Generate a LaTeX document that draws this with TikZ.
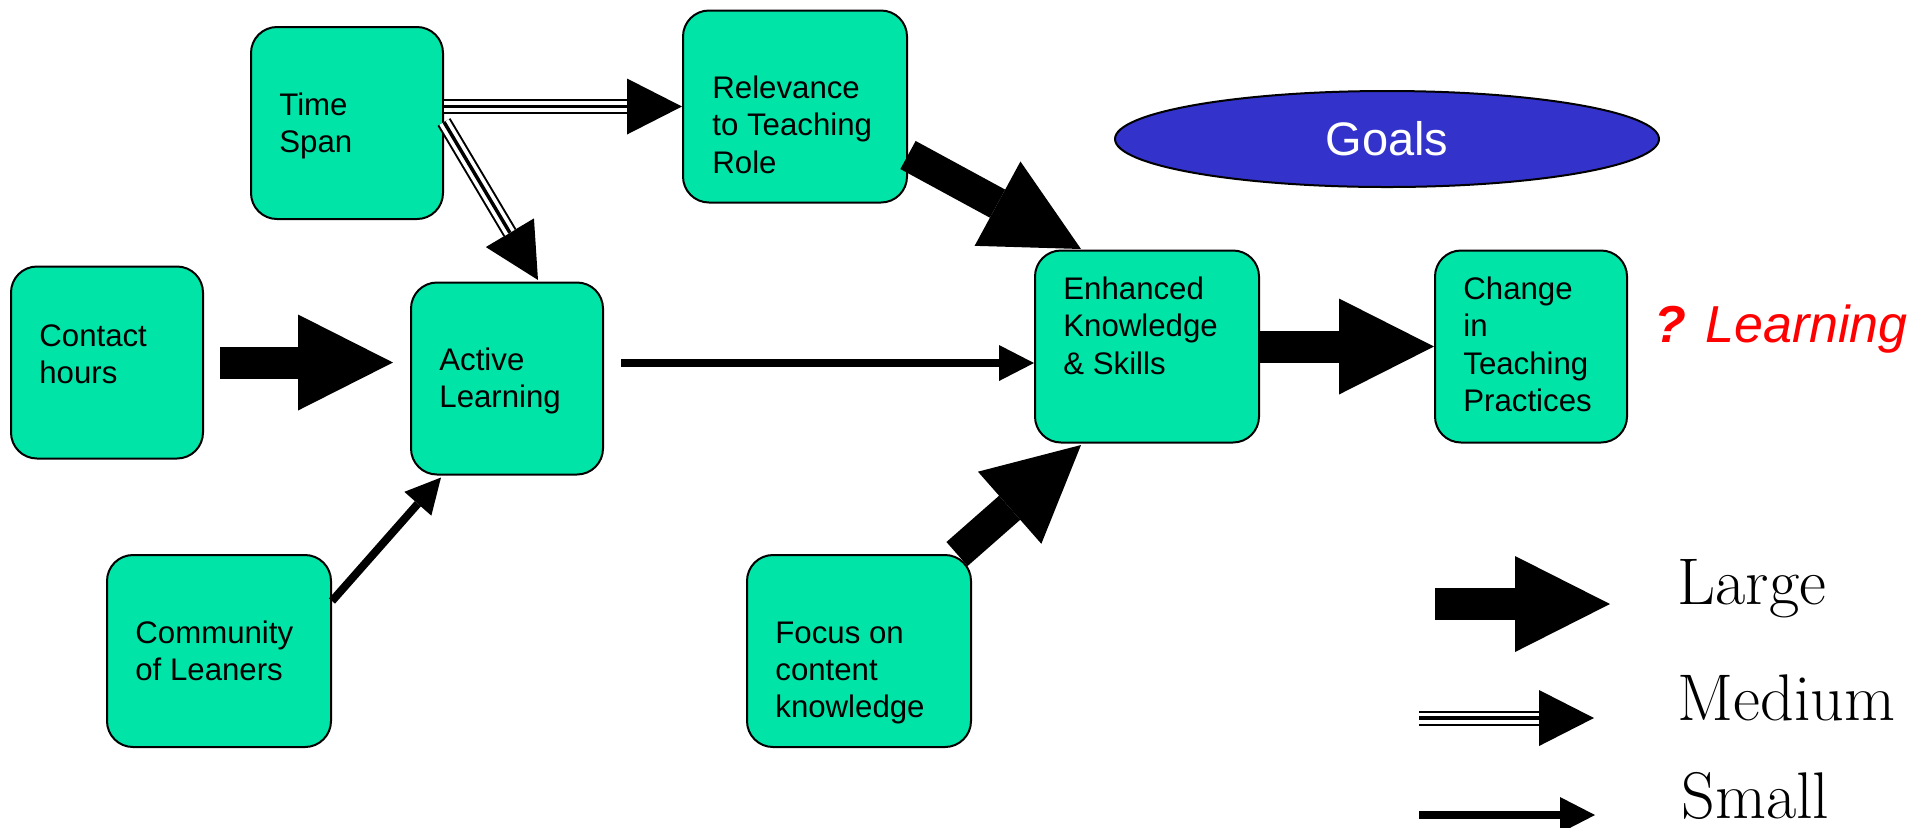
\documentclass[tikz,border=0pt]{standalone}
\usepackage{fontspec}
\usepackage{tikz}
\usetikzlibrary{arrows.meta,calc,shapes.geometric}
\newfontfamily\boxfont{Liberation Sans}
\definecolor{BoxColor}{RGB}{0,228,168}
\definecolor{GoalColor}{RGB}{51,51,204}

\begin{document}
\begin{tikzpicture}[x=0.5pt,y=-0.5pt,
  box/.style={draw, line width=1pt, rounded corners=13pt, fill=BoxColor, minimum width=96pt, minimum height=96pt, inner sep=0pt},
  widebox/.style={box, minimum width=112pt},
  boxtext/.style={anchor=base west, align=left, inner sep=0pt, font=\boxfont\fontsize{15.6}{18.7}\selectfont},
  bigarrow/.style={line width=16pt, -{Triangle[length=47.5pt,width=48pt,line width=0pt]}},
  midarrow/.style={line width=7.5pt, -{Triangle[length=27.5pt,width=28pt,line width=0pt]},
    postaction={draw=white, line width=5.5pt, shorten >=27.5pt, -},
    postaction={draw=black, line width=1.75pt, shorten >=27.5pt, -}},
  smallarrow/.style={line width=4pt, -{Triangle[length=17.5pt,width=18pt,line width=0pt]}},
  legendtext/.style={anchor=base west, inner sep=0pt, font=\fontsize{33}{38}\selectfont}]

  \useasboundingbox (0,0) rectangle (1931,827);

  % boxes (text placed at the baseline of its last line)
  \node[box] (ts) at (347,123) {};
  \node[boxtext] (ts-txt) at ($(ts.north west)+(29,126.4)$) {Time\\Span};

  \node[widebox] (rel) at (795,106.5) {};
  \node[boxtext] (rel-txt) at ($(rel.north west)+(30,163.8)$) {Relevance\\to Teaching\\Role};

  \node[box] (ch) at (107,362.5) {};
  \node[boxtext] (ch-txt) at ($(ch.north west)+(29,118.4)$) {Contact\\hours};

  \node[box] (al) at (507,378.5) {};
  \node[boxtext] (al-txt) at ($(al.north west)+(29,126.4)$) {Active\\Learning};

  \node[widebox] (col) at (219,651) {};
  \node[boxtext] (col-txt) at ($(col.north west)+(29,126.4)$) {Community\\of Leaners};

  \node[widebox] (foc) at (859,651) {};
  \node[boxtext] (foc-txt) at ($(foc.north west)+(29,163.8)$) {Focus on\\content\\knowledge};

  \node[widebox] (ek) at (1147,346.5) {};
  \node[boxtext] (ek-txt) at ($(ek.north west)+(29,124.8)$) {Enhanced\\Knowledge\\\& Skills};

  \node[box] (ctp) at (1531,346.5) {};
  \node[boxtext] (ctp-txt) at ($(ctp.north west)+(29,162.2)$) {Change\\in\\Teaching\\Practices};

  \node[ellipse, draw, line width=1pt, fill=GoalColor, minimum width=272pt, minimum height=48pt, inner sep=0pt,
        text=white, font=\boxfont\fontsize{23.5}{28}\selectfont] (goals) at (1387,139) {Goals};
  \node[anchor=base west, inner sep=0pt, text=red, font=\boxfont\itshape\fontsize{26}{31}\selectfont] (learn) at (1654,342) {{\bfseries ?} Learning};

  % medium arrows
  \draw[midarrow] (ts.east |- rel.west) -- (rel.west);
  \draw[midarrow] ($(ts.east)+(0,-1)$) -- ($(al.north)+(31,-1.5)$);

  % large arrows
  \draw[bigarrow] ($(ch.east)+(16,0)$) -- ($(ch.east -| al.west)+(-17,0)$);
  \draw[bigarrow] ($(rel.east)+(0,48.5)$) -- ($(ek.north west)+(47,-0.5)$);
  \draw[bigarrow] ($(foc.north east)+(-15,0)$) -- ($(ek.south west)+(47,1.5)$);
  \draw[bigarrow] (ek.east) -- (ctp.west);

  % small arrows
  \draw[smallarrow] ($(al.east)+(17,-15.5)$) -- ($(al.east -| ek.west)+(0,-15.5)$);
  \draw[smallarrow] ($(col.north east)+(0,47)$) -- ($(al.south west)+(31,2)$);

  % legend
  \coordinate (lg-big-s) at (1435,604);
  \coordinate (lg-big-e) at (1610,604);
  \coordinate (lg-mid-s) at (1419,718);
  \coordinate (lg-mid-e) at (1594,718);
  \coordinate (lg-small-s) at (1419,815);
  \coordinate (lg-small-e) at (1595,815);
  \draw[bigarrow] (lg-big-s) -- (lg-big-e);
  \draw[midarrow] (lg-mid-s) -- (lg-mid-e);
  \draw[smallarrow] (lg-small-s) -- (lg-small-e);
  \node[legendtext] (lg-big) at (1677,604) {Large};
  \node[legendtext] (lg-mid) at (1677,720) {Medium};
  \node[legendtext] (lg-small) at (1681,818) {Small};

\end{tikzpicture}
\end{document}
